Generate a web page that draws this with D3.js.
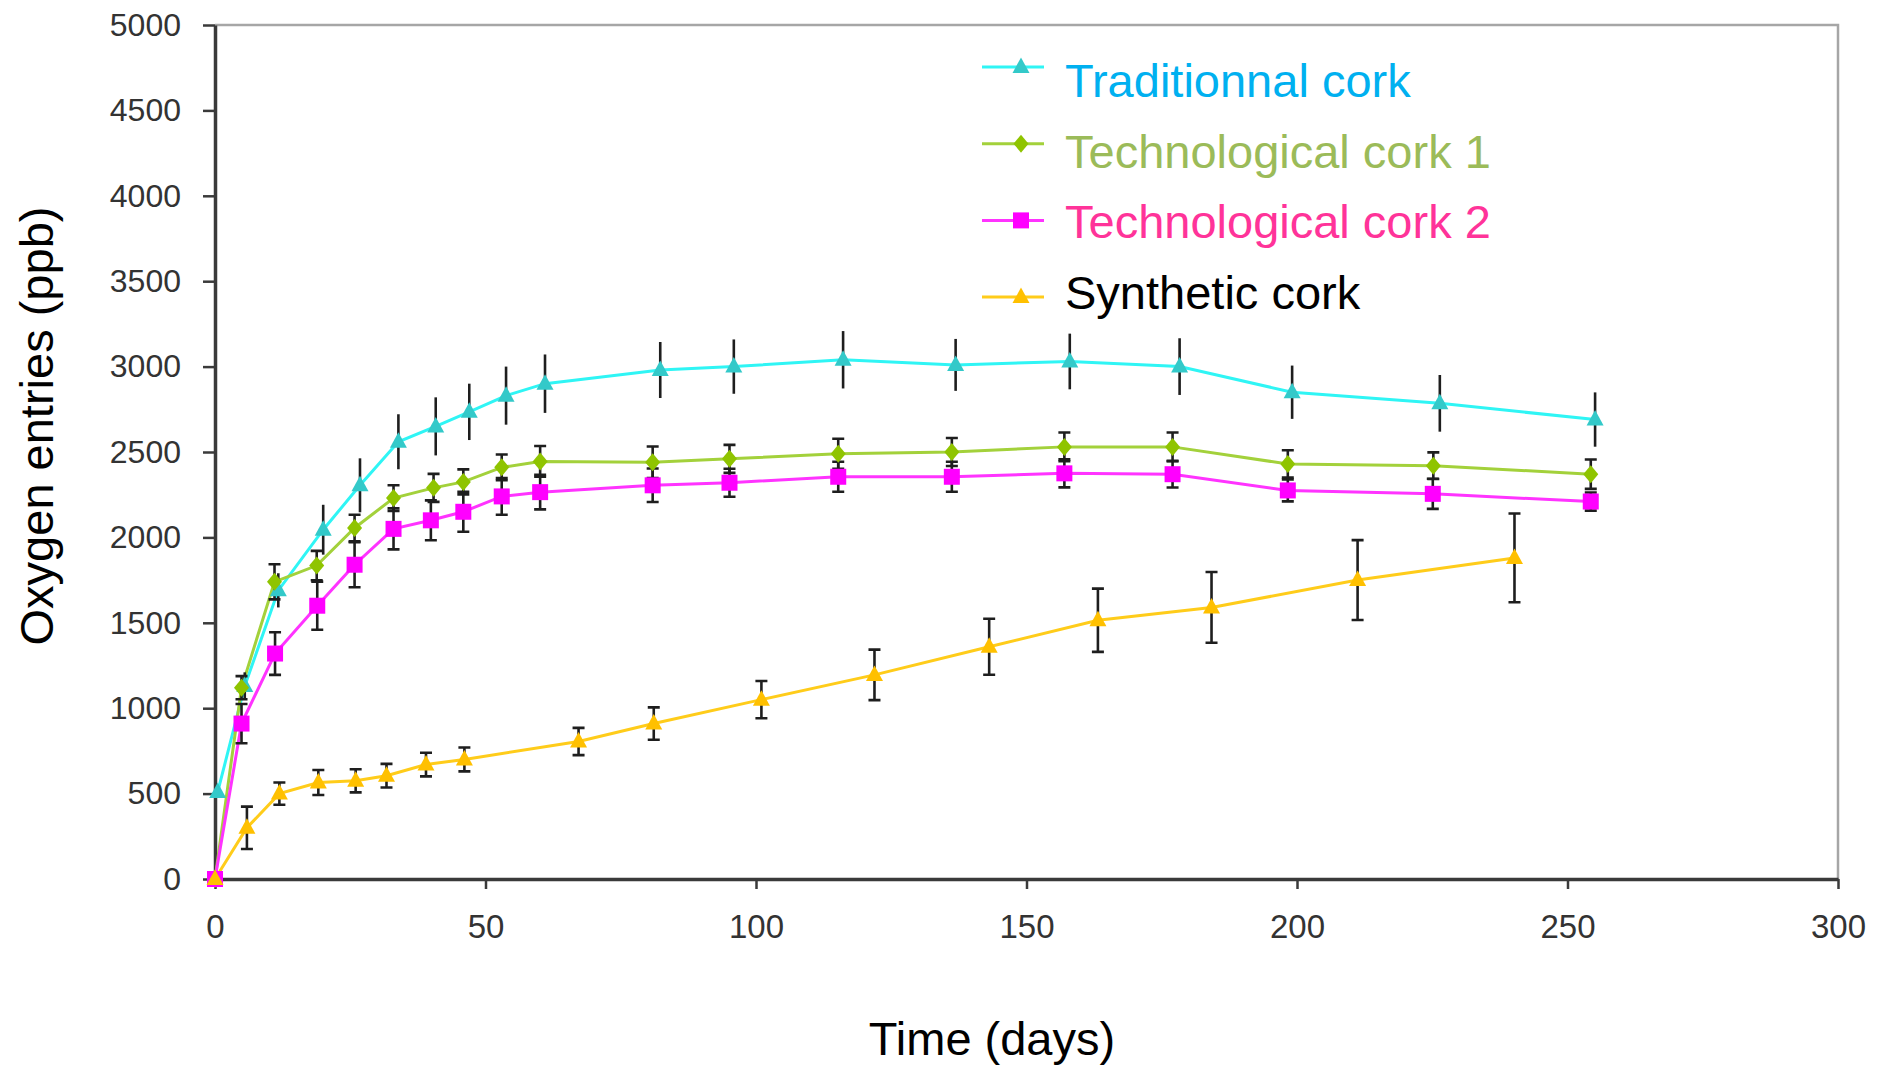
<!DOCTYPE html>
<html>
<head>
<meta charset="utf-8">
<script src="https://cdn.jsdelivr.net/npm/d3@7"></script>
<style>
body { margin: 0; background: #fff; }
svg { display: block; font-family: "Liberation Sans", Arial, sans-serif; }
</style>
</head>
<body>
<svg id="chart"></svg>
<script>
var seriesNames = ["Traditionnal cork", "Technological cork 1", "Technological cork 2", "Synthetic cork"];

var tradDays   = [0.5, 5.5, 11.7, 20, 26.8, 33.9, 40.8, 47, 53.8, 61, 82.3, 95.9, 116.1, 136.9, 158, 178.3, 199.1, 226.4, 255.1];
var tradValues = [510, 1130, 1690, 2045, 2305, 2560, 2650, 2735, 2830, 2900, 2980, 3000, 3040, 3010, 3030, 3000, 2850, 2785, 2690];
var tradErrors = [0, 80, 100, 146, 158, 161, 170, 165, 170, 171, 164, 159, 168, 152, 163, 166, 156, 166, 159];

var tech1Days   = [0, 4.9, 11, 18.8, 25.8, 33, 40.4, 45.9, 53, 60.1, 80.9, 95.1, 115.2, 136.2, 157, 177, 198.3, 225.2, 254.3];
var tech1Values = [0, 1120, 1740, 1835, 2055, 2230, 2290, 2325, 2410, 2445, 2440, 2460, 2490, 2500, 2530, 2530, 2430, 2420, 2370];
var tech1Errors = [0, 68, 103, 86, 78, 75, 82, 73, 75, 90, 92, 82, 88, 82, 84, 84, 80, 78, 86];

var tech2Days   = [0, 4.9, 11.1, 18.9, 25.8, 33, 39.9, 45.9, 53, 60.1, 80.9, 95.1, 115.2, 136.2, 157, 177, 198.3, 225.1, 254.3];
var tech2Values = [0, 910, 1320, 1600, 1840, 2050, 2100, 2150, 2240, 2265, 2305, 2320, 2355, 2355, 2375, 2370, 2275, 2255, 2210];
var tech2Errors = [0, 115, 125, 141, 132, 120, 117, 117, 107, 101, 98, 82, 88, 88, 82, 78, 64, 88, 53];

var synthDays   = [0, 5.9, 11.9, 19.1, 26, 31.7, 39, 46.1, 67.2, 81.1, 101, 121.9, 143.1, 163.2, 184.2, 211.2, 240.2];
var synthValues = [0, 300, 500, 565, 575, 605, 670, 700, 805, 910, 1050, 1195, 1360, 1515, 1590, 1750, 1880];
var synthErrors = [0, 124, 65, 73, 68, 69, 69, 70, 80, 95, 109, 148, 164, 185, 207, 234, 260];

var xTickValues = [0, 50, 100, 150, 200, 250, 300];
var yTickValues = [0, 500, 1000, 1500, 2000, 2500, 3000, 3500, 4000, 4500, 5000];

var width = 1883, height = 1067;
var margin = ({top: 25, right: 45, bottom: 188, left: 215});

var series = [
  {name: seriesNames[0], days: tradDays, values: tradValues, errors: tradErrors,
   line: "#2ff5f5", marker: "#33c9c9", text: "#00b0f0", shape: "triangle", caps: false},
  {name: seriesNames[1], days: tech1Days, values: tech1Values, errors: tech1Errors,
   line: "#a3d13b", marker: "#8fc400", text: "#9bbb59", shape: "diamond", caps: true},
  {name: seriesNames[2], days: tech2Days, values: tech2Values, errors: tech2Errors,
   line: "#ff33ff", marker: "#ff00ff", text: "#ff3399", shape: "square", caps: true},
  {name: seriesNames[3], days: synthDays, values: synthValues, errors: synthErrors,
   line: "#ffcc1a", marker: "#ffc000", text: "#000000", shape: "triangle", caps: true}
];

series.forEach(function(s) {
  s.points = s.days.map(function(d, i) {
    return {day: d, value: s.values[i], err: s.errors[i]};
  });
});

var x = d3.scaleLinear()
  .domain([0, 300])
  .range([margin.left, width - margin.right]);

var y = d3.scaleLinear()
  .domain([0, 5000])
  .range([height - margin.bottom, margin.top]);

var shapePath = function(shape) {
  if (shape == "triangle") return "M0,-9.5L8.5,6L-8.5,6Z";
  if (shape == "diamond") return "M0,-9L7.5,0L0,9L-7.5,0Z";
  return "M-8,-8H8V8H-8Z";
};

var svg = d3.select("#chart")
  .attr("width", width)
  .attr("height", height)
  .attr("viewBox", [0, 0, width, height]);

svg.append("rect")
  .attr("width", width)
  .attr("height", height)
  .attr("fill", "#fff");

// frame: light top and right edges
svg.append("path")
  .attr("d", `M${x(0)},${y(5000)}H${x(300)}V${y(0)}`)
  .attr("fill", "none")
  .attr("stroke", "#a6a6a6")
  .attr("stroke-width", 2.5);

var xAxis = g => g
  .attr("transform", `translate(0,${y(0)})`)
  .call(d3.axisBottom(x)
    .tickValues(xTickValues)
    .tickFormat(d3.format("d"))
    .tickSize(10)
    .tickSizeOuter(0)
    .tickPadding(26))
  .call(g => g.select(".domain").attr("stroke", "#3a3a3a").attr("stroke-width", 3.5))
  .call(g => g.selectAll(".tick line").attr("stroke", "#3a3a3a").attr("stroke-width", 2.5))
  .call(g => g.selectAll(".tick text")
    .attr("fill", "#333")
    .attr("font-size", 33)
    .attr("font-family", "'Liberation Sans', Arial, sans-serif"));

var yAxis = g => g
  .attr("transform", `translate(${x(0)},0)`)
  .call(d3.axisLeft(y)
    .tickValues(yTickValues)
    .tickFormat(d3.format("d"))
    .tickSize(12)
    .tickSizeOuter(0)
    .tickPadding(22))
  .call(g => g.select(".domain").attr("stroke", "#3a3a3a").attr("stroke-width", 3.5))
  .call(g => g.selectAll(".tick line").attr("stroke", "#3a3a3a").attr("stroke-width", 2.5))
  .call(g => g.selectAll(".tick text")
    .attr("fill", "#333")
    .attr("font-size", 32)
    .attr("font-family", "'Liberation Sans', Arial, sans-serif"));

svg.append("g").call(xAxis);
svg.append("g").call(yAxis);

var line = d3.line()
  .x(d => x(d.day))
  .y(d => y(d.value));

svg.append("g")
  .selectAll("path")
  .data(series)
  .join("path")
  .attr("d", s => line(s.points))
  .attr("fill", "none")
  .attr("stroke", s => s.line)
  .attr("stroke-width", 3);

// error bars
var bars = svg.append("g")
  .attr("stroke", "#1e1e1e")
  .attr("stroke-width", 2.6);

series.forEach(function(s) {
  var pts = s.points.filter(d => d.err > 0);
  bars.append("g")
    .selectAll("line")
    .data(pts)
    .join("line")
    .attr("x1", d => x(d.day))
    .attr("x2", d => x(d.day))
    .attr("y1", d => y(d.value - d.err))
    .attr("y2", d => y(d.value + d.err));
  if (s.caps) {
    bars.append("g")
      .selectAll("path")
      .data(pts)
      .join("path")
      .attr("d", d => `M${x(d.day) - 6},${y(d.value - d.err)}h12M${x(d.day) - 6},${y(d.value + d.err)}h12`);
  }
});

svg.append("g")
  .selectAll("g")
  .data(series)
  .join("g")
  .attr("fill", s => s.marker)
  .each(function(s) {
    d3.select(this).selectAll("path")
      .data(s.points)
      .join("path")
      .attr("transform", d => `translate(${x(d.day)},${y(d.value)})`)
      .attr("d", shapePath(s.shape));
  });

// legend
var legend = svg.append("g")
  .selectAll("g")
  .data(series)
  .join("g");

legend.append("line")
  .attr("x1", 982)
  .attr("x2", 1044)
  .attr("y1", (s, i) => 67 + i * 76.7)
  .attr("y2", (s, i) => 67 + i * 76.7)
  .attr("stroke", s => s.line)
  .attr("stroke-width", 3);

legend.append("path")
  .attr("transform", (s, i) => `translate(1021,${67 + i * 76.7})`)
  .attr("d", s => shapePath(s.shape))
  .attr("fill", s => s.marker);

legend.append("text")
  .attr("x", 1065)
  .attr("y", (s, i) => 97 + i * 70.5)
  .attr("font-size", 47)
  .attr("fill", s => s.text)
  .text(s => s.name);

svg.append("text")
  .attr("x", 992)
  .attr("y", 1055)
  .attr("text-anchor", "middle")
  .attr("font-size", 47)
  .attr("fill", "#000")
  .text("Time (days)");

svg.append("text")
  .attr("transform", "translate(53,426) rotate(-90)")
  .attr("text-anchor", "middle")
  .attr("font-size", 47)
  .attr("fill", "#000")
  .text("Oxygen entries (ppb)");
</script>
</body>
</html>
